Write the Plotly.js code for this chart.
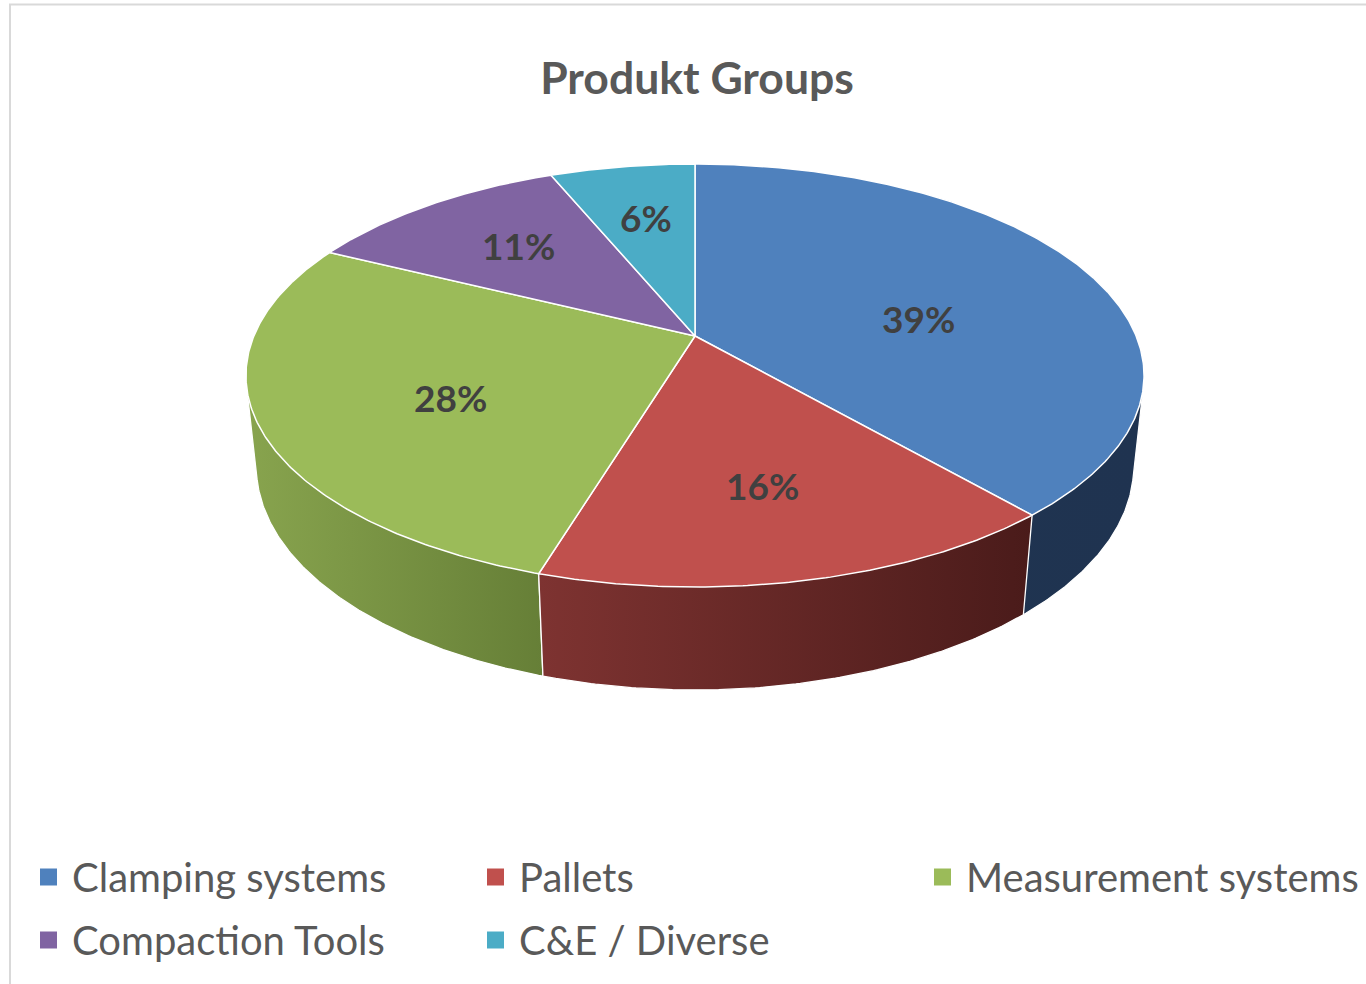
<!DOCTYPE html>
<html>
<head>
<meta charset="utf-8">
<script src="https://cdn.plot.ly/plotly-3.0.1.min.js"></script>
<style>html,body{margin:0;padding:0;background:#fff;}#chart{width:1366px;height:984px;}</style>
</head>
<body>
<div id="chart"></div>
<script>
// ---- data ----
const categories = ['Clamping systems', 'Pallets', 'Measurement systems', 'Compaction Tools', 'C&E / Diverse'];
const shares = [38.6, 16.1, 27.6, 11.45, 6.25];   // labels show rounded %
const topColors = ['#4F81BD', '#C0504D', '#9BBB59', '#8064A2', '#4BACC6'];
const sideLight = ['#1F3552', '#7E3331', '#88A44E', '#4C3B62', '#2C6778'];
const sideDark  = ['#1F3350', '#4A1B1A', '#667F37', '#3E3050', '#245461'];
const chartTitle = 'Produkt Groups';

// ---- layout constants (3D perspective pie) ----
const W = 1366, H = 984;
const G = {cx: 695, cy: 336, F: 2095, D: 4.749, phi: 27.56 * Math.PI / 180, h: 0.235};
const FONT = 'Lato, "Open Sans", sans-serif';
const labelLift = 6;
// side drawing order: back to front, nearest (front) slices last
const sideOrder = [0, 3, 4, 2, 1];

function proj(t, rho, z) {
  const X = rho * Math.sin(t), Y = rho * Math.cos(t);
  const c = Math.cos(G.phi), s = Math.sin(G.phi);
  const depth = Y * c - z * s + G.D;
  return [G.cx + G.F * X / depth, G.cy - G.F * (Y * s + z * c) / depth];
}
function arc(a0, a1, z) {
  const n = Math.max(2, Math.ceil((a1 - a0) / (Math.PI / 360)));
  const pts = [];
  for (let k = 0; k <= n; k++) pts.push(proj(a0 + (a1 - a0) * k / n, 1, z));
  return pts;
}
function hull(points) {
  const p = points.slice().sort((a, b) => a[0] - b[0] || a[1] - b[1]);
  const cross = (o, a, b) => (a[0] - o[0]) * (b[1] - o[1]) - (a[1] - o[1]) * (b[0] - o[0]);
  const lower = [], upper = [];
  for (const q of p) { while (lower.length >= 2 && cross(lower[lower.length - 2], lower[lower.length - 1], q) <= 0) lower.pop(); lower.push(q); }
  for (let i = p.length - 1; i >= 0; i--) { const q = p[i]; while (upper.length >= 2 && cross(upper[upper.length - 2], upper[upper.length - 1], q) <= 0) upper.pop(); upper.push(q); }
  upper.pop(); lower.pop();
  return lower.concat(upper);
}

const total = shares.reduce((a, b) => a + b, 0);
const angles = [0];
shares.forEach((v, i) => angles.push(angles[i] + v / total * 2 * Math.PI));

const traces = [];
// side bodies (convex hull of top and bottom rims of each slice; tops drawn over them)
sideOrder.forEach(i => {
  const a0 = angles[i], a1 = angles[i + 1];
  const pts = hull(arc(a0, a1, 0).concat(arc(a0, a1, -G.h)));
  pts.push(pts[0]);
  traces.push({
    type: 'scatter', mode: 'lines', x: pts.map(p => p[0]), y: pts.map(p => p[1]),
    fill: 'toself', fillcolor: sideDark[i],
    fillgradient: {type: 'horizontal', colorscale: [[0, sideLight[i]], [1, sideDark[i]]]},
    line: {color: '#ffffff', width: 1.3}, hoverinfo: 'skip', showlegend: false
  });
});
// top faces
const annotations = [];
shares.forEach((v, i) => {
  const a0 = angles[i], a1 = angles[i + 1];
  const c0 = proj(0, 0, 0);
  const pts = [c0].concat(arc(a0, a1, 0));
  pts.push(c0);
  traces.push({
    type: 'scatter', mode: 'lines', x: pts.map(p => p[0]), y: pts.map(p => p[1]),
    fill: 'toself', fillcolor: topColors[i],
    line: {color: '#ffffff', width: 1.5}, hoverinfo: 'skip', showlegend: false
  });
  // polygon centroid for label
  let A = 0, Cx = 0, Cy = 0;
  for (let k = 0; k < pts.length - 1; k++) {
    const [x0, y0] = pts[k], [x1, y1] = pts[k + 1];
    const cr = x0 * y1 - x1 * y0;
    A += cr; Cx += (x0 + x1) * cr; Cy += (y0 + y1) * cr;
  }
  A /= 2; Cx /= (6 * A); Cy /= (6 * A);
  annotations.push({
    x: Cx, y: Cy - labelLift, xref: 'x', yref: 'y', showarrow: false,
    text: '<b>' + Math.round(v / total * 100) + '%</b>',
    font: {family: FONT, size: 37, color: '#404040'}, xanchor: 'center', yanchor: 'middle'
  });
});

// legend (3 columns)
const legX0 = 48.5, legColW = 447, legY0 = 877, legRowH = 63;
const legX = [], legY = [];
categories.forEach((name, i) => {
  const col = i % 3, row = Math.floor(i / 3);
  legX.push(legX0 + col * legColW);
  legY.push(legY0 + row * legRowH);
  annotations.push({
    x: legX0 + col * legColW + 21.5, y: legY0 + row * legRowH, xref: 'x', yref: 'y', showarrow: false,
    text: name, font: {family: FONT, size: 40, color: '#595959'}, xanchor: 'left', yanchor: 'middle'
  });
});
traces.push({
  type: 'scatter', mode: 'markers', x: legX, y: legY,
  marker: {symbol: 'square', size: 17, color: topColors, line: {width: 0}},
  hoverinfo: 'skip', showlegend: false
});

const layout = {
  width: W, height: H, margin: {l: 0, r: 0, t: 0, b: 0},
  paper_bgcolor: '#ffffff', plot_bgcolor: '#ffffff',
  title: {text: '<b>' + chartTitle + '</b>', x: 697 / W, y: 1 - 78 / H, xanchor: 'center', yanchor: 'middle',
          font: {family: FONT, size: 44.5, color: '#595959'}},
  xaxis: {range: [0, W], visible: false, fixedrange: true},
  yaxis: {range: [H, 0], visible: false, fixedrange: true},
  showlegend: false,
  annotations: annotations,
  shapes: [{type: 'rect', xref: 'x', yref: 'y', x0: 10, y0: 4.5, x1: W + 20, y1: H + 20,
            line: {color: '#D9D9D9', width: 2}, fillcolor: 'rgba(0,0,0,0)', layer: 'below'}]
};

Plotly.newPlot('chart', traces, layout, {staticPlot: true, displayModeBar: false});
</script>
</body>
</html>
